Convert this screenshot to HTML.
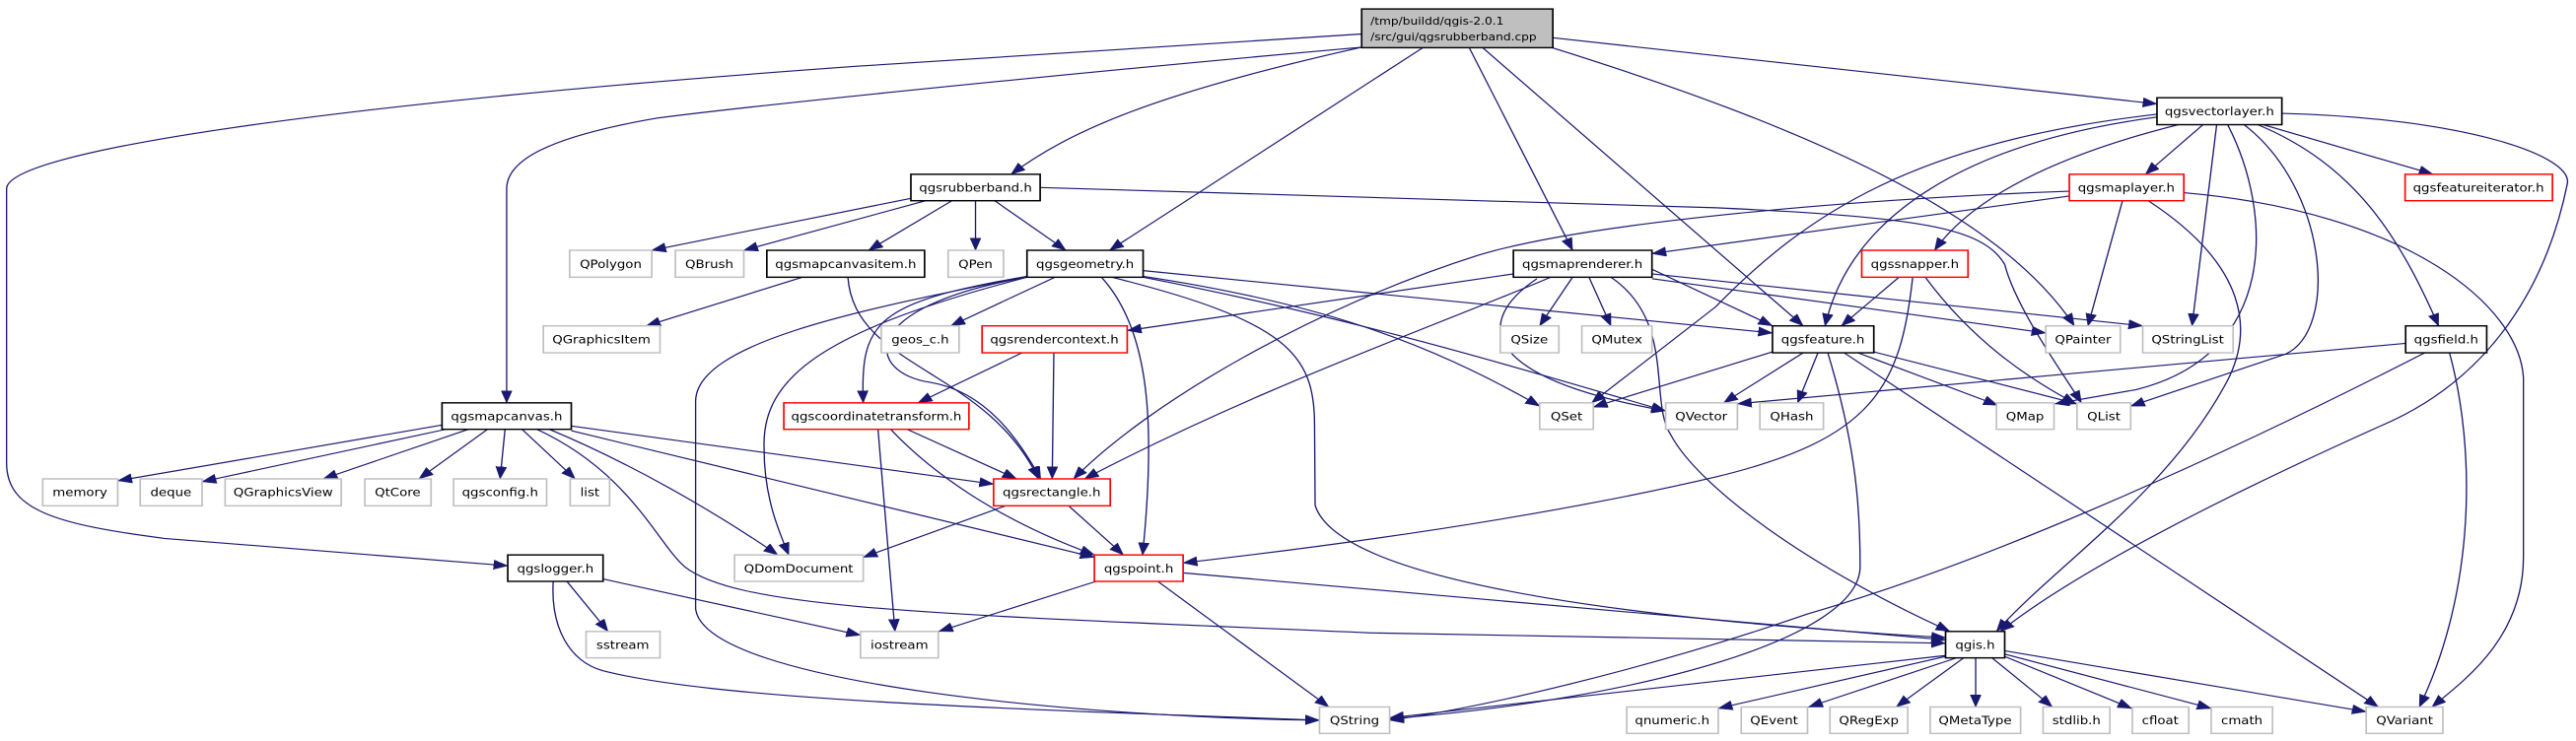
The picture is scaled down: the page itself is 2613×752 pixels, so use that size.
<!DOCTYPE html>
<html><head><meta charset="utf-8"><style>
html,body{margin:0;padding:0;background:#fff;}
svg{display:block;}
text{font-family:"DejaVu Sans","Liberation Sans",sans-serif;font-size:24px;fill:#000;}
.e{fill:none;stroke:#191970;stroke-width:2.4;marker-end:url(#a);}
.g{fill:#fff;stroke:#bfbfbf;stroke-width:3;}
.b{fill:#fff;stroke:#000;stroke-width:3;}
.r{fill:#fff;stroke:#ff0000;stroke-width:3;}
</style></head><body>
<svg width="2613" height="752" viewBox="0 0 4703 1569" preserveAspectRatio="none" xmlns="http://www.w3.org/2000/svg">
<defs><marker id="a" markerUnits="userSpaceOnUse" markerWidth="30" markerHeight="24" refX="26" refY="10" orient="auto"><path d="M0,0 L26,10 L0,20 z" fill="#191970" stroke="#191970"/></marker></defs>
<g>
<path class="e" d="M2486,72 L1568,140 C600,220 12,320 12,400 L12,980 C12,1080 100,1110 300,1140 L927,1198"/>
<path class="e" d="M2486,100 C2000,150 1400,220 1200,250 C1000,290 925,340 925,400 L925,853"/>
<path class="e" d="M2486,100 C2100,200 1950,280 1846,369"/>
<path class="e" d="M2599,100 L2026,530"/>
<path class="e" d="M2682,100 L2871,530"/>
<path class="e" d="M2706,100 L3292,690"/>
<path class="e" d="M2831,100 C3300,270 3650,450 3787,690"/>
<path class="e" d="M2835,80 L3938,220"/>
<path class="e" d="M1663,420 L1190,530"/>
<path class="e" d="M1690,425 L1358,530"/>
<path class="e" d="M1738,425 L1586,530"/>
<path class="e" d="M1781,425 L1781,530"/>
<path class="e" d="M1816,425 L1946,530"/>
<path class="e" d="M1899,397 L3134,440 C3500,460 3620,480 3660,560 C3680,650 3760,780 3800,853"/>
<path class="e" d="M1465,587 L1180,690"/>
<path class="e" d="M1548,587 C1560,780 1800,780 1896,1014"/>
<path class="e" d="M1926,587 L1736,690"/>
<path class="e" d="M1875,585 C1600,640 1570,680 1576,853"/>
<path class="e" d="M1875,587 C1560,650 1580,790 1700,810 C1800,830 1860,930 1900,1014"/>
<path class="e" d="M2011,587 C2100,700 2110,900 2086,1175"/>
<path class="e" d="M1875,585 C1600,650 1270,720 1270,850 L1270,1290 C1290,1450 2000,1520 2409,1525"/>
<path class="e" d="M1875,587 C1500,700 1390,800 1395,950 C1395,1050 1420,1120 1440,1175"/>
<path class="e" d="M2087,573 L3236,705"/>
<path class="e" d="M2087,585 C2400,640 2600,720 2811,860"/>
<path class="e" d="M2087,587 C2500,680 2800,790 3041,870"/>
<path class="e" d="M2030,587 C2350,680 2400,750 2400,900 L2401,1070 C2450,1250 3100,1320 3552,1350"/>
<path class="e" d="M1866,747 L1676,853"/>
<path class="e" d="M1924,747 L1921,1014"/>
<path class="e" d="M1656,909 L1856,1014"/>
<path class="e" d="M1626,909 C1700,1000 1820,1100 1998,1175"/>
<path class="e" d="M1603,909 L1634,1337"/>
<path class="e" d="M807,900 L215,1018"/>
<path class="e" d="M830,905 L369,1020"/>
<path class="e" d="M855,909 L590,1014"/>
<path class="e" d="M890,909 L765,1014"/>
<path class="e" d="M922,909 L913,1014"/>
<path class="e" d="M953,909 L1050,1014"/>
<path class="e" d="M1003,909 C1150,980 1300,1080 1420,1175"/>
<path class="e" d="M1043,902 L1814,1025"/>
<path class="e" d="M1043,912 L1998,1180"/>
<path class="e" d="M980,909 C1150,1000 1200,1150 1250,1200 C1350,1290 1700,1300 2500,1340 L3552,1362"/>
<path class="e" d="M1035,1231 L1110,1337"/>
<path class="e" d="M1101,1226 L1571,1345"/>
<path class="e" d="M1010,1231 C1005,1330 1040,1400 1100,1420 C1300,1480 1800,1500 2409,1525"/>
<path class="e" d="M1836,1071 L1576,1180"/>
<path class="e" d="M1951,1071 L2051,1175"/>
<path class="e" d="M2001,1231 L1714,1337"/>
<path class="e" d="M2114,1231 L2426,1497"/>
<path class="e" d="M2160,1213 L3552,1355"/>
<path class="e" d="M2763,580 L2058,700"/>
<path class="e" d="M2831,587 C2600,700 2300,820 1980,1014"/>
<path class="e" d="M2871,587 L2811,690"/>
<path class="e" d="M2901,587 L2941,690"/>
<path class="e" d="M2806,590 C2690,680 2700,800 3041,870"/>
<path class="e" d="M3016,570 L3236,690"/>
<path class="e" d="M3016,580 L3912,690"/>
<path class="e" d="M3016,590 L3735,705"/>
<path class="e" d="M2941,587 C3060,680 3010,850 3050,920 C3100,1030 3300,1200 3560,1337"/>
<path class="e" d="M4022,264 L3917,369"/>
<path class="e" d="M3977,264 C3750,330 3600,420 3532,530"/>
<path class="e" d="M3938,248 C3600,300 3380,450 3332,690"/>
<path class="e" d="M3938,242 C3500,300 3300,450 3132,650 L2906,853"/>
<path class="e" d="M4047,264 L4002,690"/>
<path class="e" d="M4067,264 C4150,450 4160,750 3900,825 L3752,855"/>
<path class="e" d="M4097,264 C4250,400 4270,700 4172,750 L3890,860"/>
<path class="e" d="M4122,264 C4300,350 4380,500 4452,690"/>
<path class="e" d="M4132,264 L4442,369"/>
<path class="e" d="M4166,240 C4500,250 4700,330 4687,390 C4650,600 4550,800 4350,900 C4100,1030 3800,1200 3652,1337"/>
<path class="e" d="M3778,415 L3016,537"/>
<path class="e" d="M3778,405 C3400,420 2900,470 2700,540 C2400,650 2100,850 1960,1014"/>
<path class="e" d="M3875,425 L3812,690"/>
<path class="e" d="M3922,425 C4100,560 4120,700 4060,820 C3950,1050 3750,1200 3645,1337"/>
<path class="e" d="M3987,408 C4400,450 4600,650 4607,800 L4607,1180 C4607,1350 4500,1440 4440,1497"/>
<path class="e" d="M3467,587 L3362,690"/>
<path class="e" d="M3515,587 C3600,720 3700,800 3790,855"/>
<path class="e" d="M3492,587 C3470,820 3420,930 3132,1010 C2800,1100 2400,1160 2160,1192"/>
<path class="e" d="M3292,747 L3147,853"/>
<path class="e" d="M3319,747 L3282,853"/>
<path class="e" d="M3392,747 L3647,858"/>
<path class="e" d="M3421,745 L3792,855"/>
<path class="e" d="M3367,747 L4342,1497"/>
<path class="e" d="M3337,747 C3390,950 3396,1080 3396,1200 C3396,1350 3000,1480 2537,1522"/>
<path class="e" d="M3236,745 L2909,862"/>
<path class="e" d="M4392,727 L3172,855"/>
<path class="e" d="M4427,747 C4000,1000 3600,1200 3300,1300 C3000,1420 2700,1500 2537,1525"/>
<path class="e" d="M4472,747 C4520,950 4520,1250 4417,1497"/>
<path class="e" d="M3552,1388 L2537,1520"/>
<path class="e" d="M3552,1390 L3137,1500"/>
<path class="e" d="M3572,1393 L3302,1497"/>
<path class="e" d="M3585,1393 L3462,1497"/>
<path class="e" d="M3607,1393 L3607,1497"/>
<path class="e" d="M3637,1393 L3747,1497"/>
<path class="e" d="M3660,1390 L3892,1500"/>
<path class="e" d="M3660,1385 L4037,1500"/>
<path class="e" d="M3660,1378 L4320,1507"/>
</g>
<g>
<rect x="2486" y="19" width="349" height="82" fill="#bfbfbf" stroke="#000" stroke-width="3"/>
<text x="2502" y="52" style="font-size:22px">/tmp/buildd/qgis-2.0.1</text>
<text x="2502" y="86" style="font-size:22px">/src/gui/qgsrubberband.cpp</text>
</g>
<g text-anchor="middle">
<rect class="g" x="1040" y="530" width="150" height="57"/><text x="1115" y="567">QPolygon</text>
<rect class="g" x="1233" y="530" width="125" height="57"/><text x="1295" y="567">QBrush</text>
<rect class="b" x="1400" y="530" width="288" height="57"/><text x="1544" y="567">qgsmapcanvasitem.h</text>
<rect class="g" x="992" y="690" width="213" height="57"/><text x="1098" y="727">QGraphicsItem</text>
<rect class="b" x="807" y="853" width="236" height="56"/><text x="925" y="890">qgsmapcanvas.h</text>
<rect class="g" x="78" y="1014" width="137" height="57"/><text x="146" y="1051">memory</text>
<rect class="g" x="256" y="1014" width="113" height="57"/><text x="312" y="1051">deque</text>
<rect class="g" x="411" y="1014" width="212" height="57"/><text x="517" y="1051">QGraphicsView</text>
<rect class="g" x="666" y="1014" width="121" height="57"/><text x="726" y="1051">QtCore</text>
<rect class="g" x="828" y="1014" width="170" height="57"/><text x="913" y="1051">qgsconfig.h</text>
<rect class="g" x="1041" y="1014" width="72" height="57"/><text x="1077" y="1051">list</text>
<rect class="b" x="927" y="1175" width="174" height="56"/><text x="1014" y="1212">qgslogger.h</text>
<rect class="g" x="1341" y="1175" width="235" height="56"/><text x="1458" y="1212">QDomDocument</text>
<rect class="g" x="1070" y="1337" width="135" height="56"/><text x="1137" y="1374">sstream</text>
<rect class="r" x="1431" y="853" width="338" height="56"/><text x="1600" y="890">qgscoordinatetransform.h</text>
<rect class="b" x="1663" y="369" width="236" height="56"/><text x="1781" y="406">qgsrubberband.h</text>
<rect class="g" x="1731" y="530" width="101" height="57"/><text x="1781" y="567">QPen</text>
<rect class="b" x="1875" y="530" width="212" height="57"/><text x="1981" y="567">qgsgeometry.h</text>
<rect class="g" x="1609" y="690" width="142" height="57"/><text x="1680" y="727">geos_c.h</text>
<rect class="r" x="1793" y="690" width="265" height="57"/><text x="1925" y="727">qgsrendercontext.h</text>
<rect class="r" x="1814" y="1014" width="213" height="57"/><text x="1920" y="1051">qgsrectangle.h</text>
<rect class="r" x="1998" y="1175" width="162" height="56"/><text x="2079" y="1212">qgspoint.h</text>
<rect class="g" x="1571" y="1337" width="142" height="56"/><text x="1642" y="1374">iostream</text>
<rect class="g" x="2409" y="1497" width="128" height="56"/><text x="2473" y="1534">QString</text>
<rect class="b" x="2763" y="530" width="253" height="57"/><text x="2889" y="567">qgsmaprenderer.h</text>
<rect class="g" x="2739" y="690" width="107" height="57"/><text x="2792" y="727">QSize</text>
<rect class="g" x="2888" y="690" width="128" height="57"/><text x="2952" y="727">QMutex</text>
<rect class="g" x="2811" y="853" width="98" height="56"/><text x="2860" y="890">QSet</text>
<rect class="g" x="3041" y="853" width="131" height="56"/><text x="3106" y="890">QVector</text>
<rect class="g" x="2970" y="1497" width="167" height="56"/><text x="3053" y="1534">qnumeric.h</text>
<rect class="b" x="3938" y="207" width="228" height="57"/><text x="4052" y="244">qgsvectorlayer.h</text>
<rect class="r" x="3778" y="369" width="209" height="56"/><text x="3882" y="406">qgsmaplayer.h</text>
<rect class="r" x="4391" y="369" width="269" height="56"/><text x="4525" y="406">qgsfeatureiterator.h</text>
<rect class="r" x="3399" y="530" width="194" height="57"/><text x="3496" y="567">qgssnapper.h</text>
<rect class="b" x="3236" y="690" width="185" height="57"/><text x="3328" y="727">qgsfeature.h</text>
<rect class="g" x="3735" y="690" width="136" height="57"/><text x="3803" y="727">QPainter</text>
<rect class="g" x="3912" y="690" width="165" height="57"/><text x="3994" y="727">QStringList</text>
<rect class="b" x="4392" y="690" width="148" height="57"/><text x="4466" y="727">qgsfield.h</text>
<rect class="g" x="3213" y="853" width="116" height="56"/><text x="3271" y="890">QHash</text>
<rect class="g" x="3645" y="853" width="105" height="56"/><text x="3697" y="890">QMap</text>
<rect class="g" x="3792" y="853" width="98" height="56"/><text x="3841" y="890">QList</text>
<rect class="b" x="3552" y="1337" width="108" height="56"/><text x="3606" y="1374">qgis.h</text>
<rect class="g" x="3179" y="1497" width="121" height="56"/><text x="3239" y="1534">QEvent</text>
<rect class="g" x="3341" y="1497" width="142" height="56"/><text x="3412" y="1534">QRegExp</text>
<rect class="g" x="3524" y="1497" width="165" height="56"/><text x="3606" y="1534">QMetaType</text>
<rect class="g" x="3730" y="1497" width="122" height="56"/><text x="3791" y="1534">stdlib.h</text>
<rect class="g" x="3893" y="1497" width="103" height="56"/><text x="3944" y="1534">cfloat</text>
<rect class="g" x="4037" y="1497" width="112" height="56"/><text x="4093" y="1534">cmath</text>
<rect class="g" x="4320" y="1497" width="140" height="56"/><text x="4390" y="1534">QVariant</text>
</g>
</svg>
</body></html>
